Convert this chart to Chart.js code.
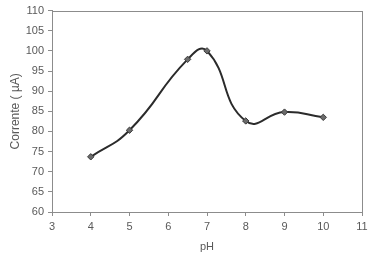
<!DOCTYPE html>
<html lang="pt">
<head>
    <meta charset="utf-8">
    <title>Corrente vs pH</title>
    <style>
      * { margin: 0; padding: 0; }
      body { background: #fff; }
      .chartBox { width: 372px; height: 256px; }
    </style>
</head>
<body>
    <div class="chartBox">
      <canvas id="phChart"></canvas>
    </div>
    <script src="https://cdn.jsdelivr.net/npm/chart.js/dist/chart.umd.min.js"></script>
    <script>
        // values
        const phValues = [4, 5, 6.5, 7, 8, 9, 10];
        const currentValues = [73.7, 80.3, 97.9, 100.0, 82.6, 84.8, 83.5];
        const xTicks = [3, 4, 5, 6, 7, 8, 9, 10, 11];
        const yTicks = [60, 65, 70, 75, 80, 85, 90, 95, 100, 105, 110];

        const axisGray = '#8c8c8c';
        const textGray = '#595959';
        const tickFont = { family: 'Liberation Sans', size: 11 };

        // box around the plot area (top + right sides)
        const plotBox = {
            id: 'plotBox',
            afterDraw(chart) {
                const { ctx, chartArea: a } = chart;
                ctx.save();
                ctx.strokeStyle = axisGray;
                ctx.lineWidth = 1;
                ctx.strokeRect(Math.round(a.left) + 0.5, Math.round(a.top) + 0.5,
                    Math.round(a.right - a.left), Math.round(a.bottom - a.top));
                ctx.restore();
            }
        };

        new Chart(document.getElementById('phChart'), {
            type: 'line',
            data: {
                datasets: [{
                    data: phValues.map((x, i) => ({ x: x, y: currentValues[i] })),
                    borderColor: '#2b2b2b',
                    borderWidth: 2,
                    tension: 0.5,
                    pointStyle: 'rectRot',
                    pointRadius: 3.2,
                    pointBackgroundColor: '#6b6b6b',
                    pointBorderColor: '#3a3a3a',
                    pointBorderWidth: 1
                }]
            },
            options: {
                responsive: true,
                maintainAspectRatio: false,
                animation: false,
                layout: { padding: { left: 0, right: 10, top: 7, bottom: 0 } },
                plugins: {
                    legend: { display: false },
                    tooltip: { enabled: false }
                },
                scales: {
                    x: {
                        type: 'linear',
                        min: 3,
                        max: 11,
                        afterBuildTicks: s => { s.ticks = xTicks.map(v => ({ value: v })); },
                        afterFit: s => { s.height = 44; },
                        border: { color: axisGray },
                        grid: { drawOnChartArea: false, tickLength: 4, color: axisGray },
                        ticks: { color: textGray, font: tickFont, padding: 4, maxRotation: 0 },
                        title: { display: true, text: 'pH', color: textGray, font: tickFont, padding: { top: 2, bottom: 2 } }
                    },
                    y: {
                        min: 60,
                        max: 110,
                        afterBuildTicks: s => { s.ticks = yTicks.map(v => ({ value: v })); },
                        afterFit: s => { s.width = 52; },
                        border: { color: axisGray },
                        grid: { drawOnChartArea: false, tickLength: 4, color: axisGray },
                        ticks: { color: textGray, font: tickFont, padding: 4 },
                        title: { display: true, text: 'Corrente ( µA)', color: textGray, font: { family: 'Liberation Sans', size: 12 }, padding: { top: 8, bottom: 2 } }
                    }
                }
            },
            plugins: [plotBox]
        });
    </script>
</body>
</html>
